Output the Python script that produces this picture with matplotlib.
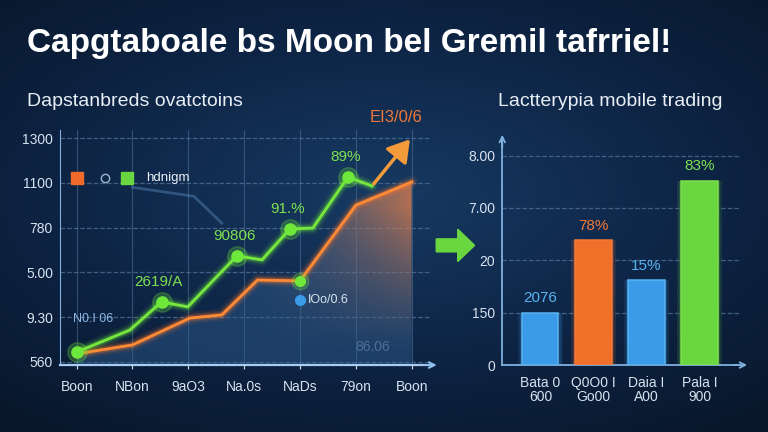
import numpy as np
import matplotlib
matplotlib.use("Agg")
import matplotlib.pyplot as plt

plt.rcParams['font.family'] = ['Liberation Sans', 'DejaVu Sans']

# ---- data ----
title = "Capgtaboale bs Moon bel Gremil tafrriel!"
left_title = "Dapstanbreds ovatctoins"
right_title = "Lactterypia mobile trading"

left_yticks = ["560", "9.30", "5.00", "780", "1100", "1300"]
left_xticks = ["Boon", "NBon", "9aO3", "Na.0s", "NaDs", "79on", "Boon"]

green_x = [0, 0.95, 1.52, 1.99, 2.87, 3.32, 3.82, 4.23, 4.86, 5.29]
green_y = [0.22, 0.71, 1.34, 1.23, 2.37, 2.28, 2.97, 2.99, 4.13, 3.93]
green_marks = [0, 2, 4, 6, 8]
green_labels = ["", "2619/A", "90806", "91.%", "89%"]
arrow_end = (6.0, 5.02)
arrow_label = "EI3/0/6"

orange_x = [0, 1.0, 2.03, 2.6, 3.24, 4.0, 5.0, 6.0]
orange_y = [0.18, 0.38, 0.98, 1.05, 1.83, 1.81, 3.5, 4.02]

right_yticks = ["0", "150", "20", "7.00", "8.00"]
bar_labels = ["Bata 0\n600", "Q0O0 I\nGo00", "Daia I\nA00", "Pala I\n900"]
bar_values = [1.0, 2.38, 1.62, 3.52]
bar_texts = ["2076", "78%", "15%", "83%"]
bar_colors = ["#3a9be8", "#f0702a", "#3a9be8", "#6ad640"]
text_colors = ["#5ab4f0", "#f07a3a", "#5ab4f0", "#7ee050"]

fig = plt.figure(figsize=(7.68, 4.32), dpi=100)

# background gradient
bg = fig.add_axes([0, 0, 1, 1])
yy, xx = np.mgrid[0:1:200j, 0:1:300j]
r = np.sqrt((xx - 0.5) ** 2 * 0.8 + (yy - 0.45) ** 2)
bg.imshow(1 - r, cmap=matplotlib.colors.LinearSegmentedColormap.from_list(
    "bg", ["#081629", "#0e2546", "#173a62"]), aspect='auto', extent=[0, 1, 0, 1])
bg.axis('off')

fig.text(0.035, 0.9, title, color='white', fontsize=24, fontweight='bold',
         va='center', ha='left')
fig.text(0.035, 0.765, left_title, color='#e8eef5', fontsize=14, va='center')
fig.text(0.795, 0.765, right_title, color='#e8eef5', fontsize=14, va='center', ha='center')

grid_c = '#4d6f96'
axis_c = '#7fb0e0'
tick_c = '#d6e2ef'

# ---- left line chart ----
ax = fig.add_axes([0.078, 0.155, 0.482, 0.544])
ax.patch.set_alpha(0)
ax.set_yticks(range(len(left_yticks)))
ax.set_yticklabels(left_yticks)
ax.set_xticks(range(len(left_xticks)))
ax.set_xticklabels(left_xticks)
ax.tick_params(colors=tick_c, labelsize=10, length=3)
ax.tick_params(axis='y', length=0, pad=5)
ax.tick_params(axis='x', pad=8)
for yv in range(len(left_yticks)):
    ax.axhline(yv, color=grid_c, ls='--', lw=0.9, alpha=0.8, zorder=1)
for xv in range(len(left_xticks)):
    ax.axvline(xv, color=grid_c, lw=0.8, alpha=0.6, zorder=1)
for s in ['top', 'right']:
    ax.spines[s].set_visible(False)
ax.spines['left'].set_color(axis_c)
ax.spines['bottom'].set_color('#a9cdf0')
ax.spines['bottom'].set_linewidth(1.6)
ax.annotate('', xy=(6.5, -0.07), xytext=(6.2, -0.07), annotation_clip=False,
            arrowprops=dict(arrowstyle='->', color='#8fc0ee', lw=1.5))

# area under orange line, blue with an orange glow towards the top right
area = ax.fill_between(orange_x, orange_y, -0.07, color='none', zorder=2)
gy, gx = np.mgrid[0:1:100j, 0:1:150j]
t = np.clip((gx - 0.55) * 2.2, 0, 1) * np.clip(gy * 1.3 - 0.1, 0, 1)
rgba = np.zeros(gy.shape + (4,))
blue = np.array(matplotlib.colors.to_rgb('#2f5f92'))
orng = np.array(matplotlib.colors.to_rgb('#e8834d'))
rgba[..., :3] = blue * (1 - t[..., None]) + orng * t[..., None]
rgba[..., 3] = 0.45 + 0.3 * t
im = ax.imshow(rgba, extent=[0, 6, -0.07, 4.1], origin='lower', aspect='auto', zorder=2)
im.set_clip_path(area.get_paths()[0], transform=ax.transData)
ax.set_xlim(-0.3, 6.33)
ax.set_ylim(-0.07, 5.18)

# glow + lines
for lw, a in [(9, 0.08), (6, 0.15), (4, 0.25)]:
    ax.plot(orange_x, orange_y, color='#ff7a2a', lw=lw, alpha=a, zorder=3, solid_capstyle='round')
    ax.plot(green_x, green_y, color='#6ee83a', lw=lw, alpha=a, zorder=4, solid_capstyle='round')
ax.plot(orange_x, orange_y, color='#ff8a35', lw=2, zorder=3)
ax.plot(green_x, green_y, color='#78e83e', lw=2, zorder=4)

# arrow continuation of the green line
ax.annotate('', xy=arrow_end, xytext=(green_x[-1], green_y[-1]), annotation_clip=False,
            arrowprops=dict(arrowstyle='-|>,head_length=1.3,head_width=0.8',
                            color='#f39a3a', lw=2.5), zorder=5)
ax.text(5.72, 5.47, arrow_label, color='#f0783a', fontsize=12, ha='center',
        va='center', clip_on=False)

for i, lab in zip(green_marks, green_labels):
    ax.plot(green_x[i], green_y[i], 'o', ms=14, color='#6ee83a', alpha=0.25, zorder=5)
    ax.plot(green_x[i], green_y[i], 'o', ms=8, color='#6ee83a', zorder=6)
    if lab:
        ax.text(green_x[i] - 0.05, green_y[i] + 0.45, lab, color='#7ee050',
                fontsize=11, ha='center', va='center', zorder=7)
ax.plot(orange_x[5], orange_y[5], 'o', ms=12, color='#6ee83a', alpha=0.25, zorder=5)
ax.plot(orange_x[5], orange_y[5], 'o', ms=7, color='#6ee83a', zorder=6)
ax.plot(orange_x[5], orange_y[5] - 0.42, 'o', ms=7, color='#3a9be8', zorder=6)
ax.text(4.15, orange_y[5] - 0.42, "IOo/0.6", color='#d6e2ef', fontsize=9,
        va='center', zorder=7)
ax.text(0.3, 0.95, "N0.I 06", color='#8fb8e8', fontsize=9, ha='center', va='center')
ax.text(5.3, 0.33, "86.06", color='#4d6f96', fontsize=10, ha='center', va='center')

# legend-like markers
ax.plot([0.0], [4.1], 's', ms=8, color='#f06a2a', zorder=6)
ax.plot([0.5], [4.1], 'o', ms=6, mfc='none', mec='#9fb6cc', zorder=6)
ax.plot([0.9], [4.1], 's', ms=8, color='#6ad640', zorder=6)
ax.text(1.25, 4.1, "hdnigm", color='#e8eef5', fontsize=9.5, va='center', zorder=7)
ax.plot([1.0, 2.1, 2.6], [3.9, 3.7, 3.1], color='#4f7fb0', lw=2, alpha=0.5, zorder=2)

# green arrow between panels
fig.patches.append(matplotlib.patches.FancyArrow(
    0.568, 0.432, 0.028, 0, width=0.03, head_width=0.075, head_length=0.022,
    color='#6ad640', transform=fig.transFigure, figure=fig))

# ---- right bar chart ----
bx = fig.add_axes([0.654, 0.155, 0.31, 0.52])
bx.patch.set_alpha(0)
bx.set_xlim(-0.72, 3.77)
bx.set_ylim(0, 4.29)
xs = np.arange(len(bar_values))
for yv in range(1, len(right_yticks)):
    bx.axhline(yv, color=grid_c, ls='--', lw=0.9, alpha=0.8, zorder=1)
for w, a in [(0.86, 0.12), (0.76, 0.2)]:
    bx.bar(xs, bar_values, width=w, color=bar_colors, alpha=a, zorder=2)
bx.bar(xs, bar_values, width=0.68, color=bar_colors, zorder=3,
       edgecolor=[matplotlib.colors.to_rgba(c, 0.9) for c in text_colors], lw=1.2)
for x, v, t_, c in zip(xs, bar_values, bar_texts, text_colors):
    bx.text(x, v + 0.28, t_, color=c, fontsize=11, ha='center', va='center')
bx.set_yticks(range(len(right_yticks)))
bx.set_yticklabels(right_yticks)
bx.set_xticks(xs)
bx.set_xticklabels(bar_labels, fontsize=7.5, linespacing=1.0)
bx.tick_params(colors=tick_c, length=0, labelsize=10)
bx.tick_params(axis='y', pad=5)
bx.tick_params(axis='x', pad=8)
for s in ['top', 'right']:
    bx.spines[s].set_visible(False)
bx.spines['left'].set_color(axis_c)
bx.spines['bottom'].set_color(axis_c)
bx.spines['left'].set_linewidth(1.3)
bx.spines['bottom'].set_linewidth(1.3)
bx.annotate('', xy=(-0.72, 4.45), xytext=(-0.72, 4.1), annotation_clip=False,
            arrowprops=dict(arrowstyle='->', color=axis_c, lw=1.3))
bx.annotate('', xy=(3.95, 0), xytext=(3.6, 0), annotation_clip=False,
            arrowprops=dict(arrowstyle='->', color=axis_c, lw=1.3))

fig.savefig("out.png", dpi=100)
plt.close(fig)
